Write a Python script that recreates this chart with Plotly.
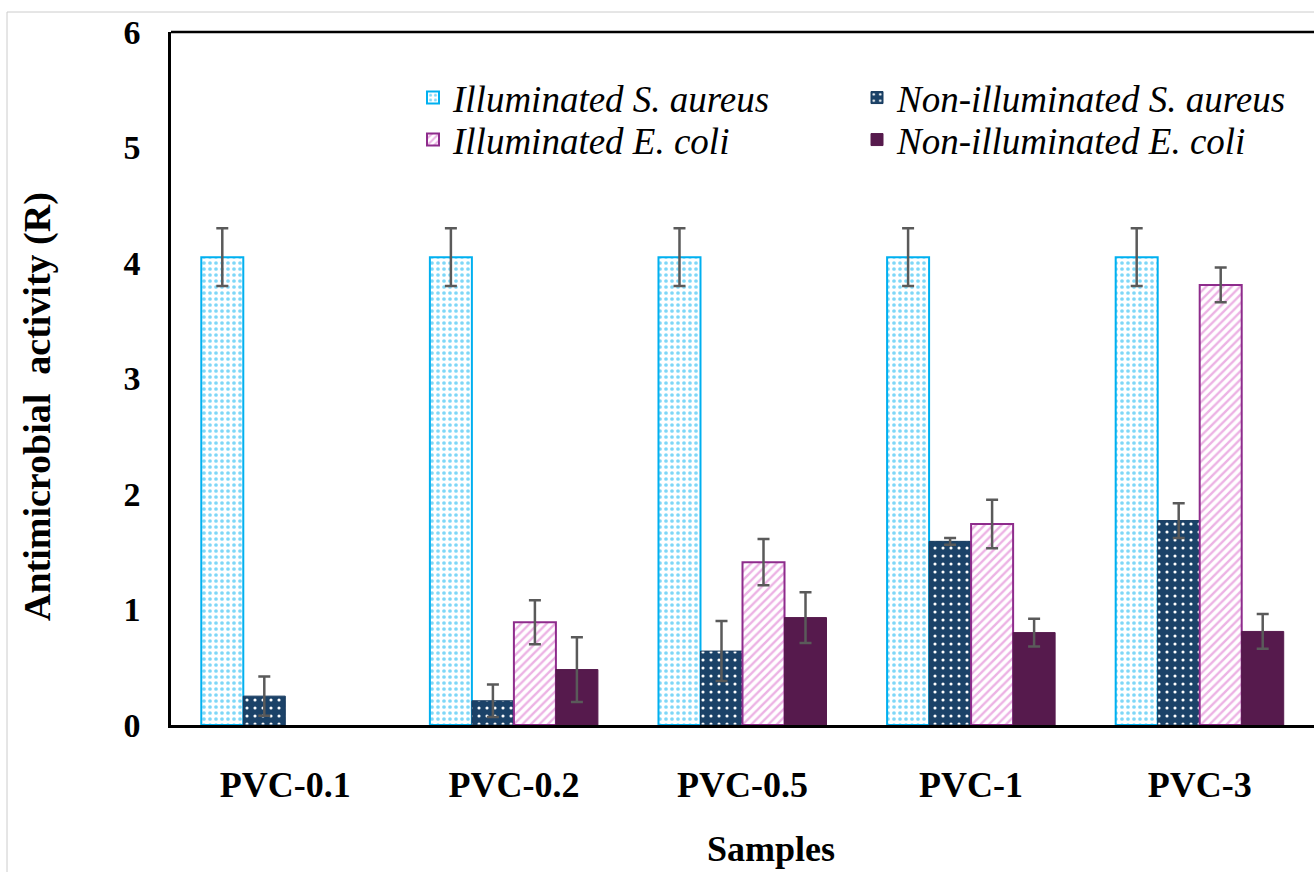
import plotly.graph_objects as go

categories = ["PVC-0.1", "PVC-0.2", "PVC-0.5", "PVC-1", "PVC-3"]

ill_s_aureus = [4.05, 4.05, 4.05, 4.05, 4.05]
ill_s_aureus_err = [0.25, 0.25, 0.25, 0.25, 0.25]

non_s_aureus = [0.25, 0.21, 0.64, 1.59, 1.77]
non_s_aureus_err = [0.17, 0.14, 0.26, 0.03, 0.15]

ill_e_coli = [None, 0.89, 1.41, 1.74, 3.81]
ill_e_coli_err = [None, 0.19, 0.20, 0.21, 0.15]

non_e_coli = [None, 0.48, 0.93, 0.80, 0.81]
non_e_coli_err = [None, 0.28, 0.22, 0.12, 0.15]

y_ticks = [0, 1, 2, 3, 4, 5, 6]

FONT = "Liberation Serif, Times New Roman, serif"
ERR = dict(type="data", visible=True, color="#5a5a5a", thickness=2.5, width=6)

fig = go.Figure()

fig.add_trace(go.Bar(
    x=categories, y=ill_s_aureus, name="<i>Illuminated S. aureus</i>",
    error_y=dict(array=ill_s_aureus_err, **ERR),
    marker=dict(color="white", line=dict(color="#00B0F0", width=2),
                pattern=dict(shape=".", fgcolor="#00B0F0", bgcolor="white",
                             size=6, solidity=0.3, fillmode="overlay")),
    legend="legend"))

fig.add_trace(go.Bar(
    x=categories, y=non_s_aureus, name="<i>Non-illuminated S. aureus</i>",
    error_y=dict(array=non_s_aureus_err, **ERR),
    marker=dict(color="#1B4268", line=dict(color="#173A5E", width=1),
                pattern=dict(shape=".", fgcolor="white", bgcolor="#1B4268",
                             size=8, solidity=0.12, fillmode="replace")),
    legend="legend2"))

fig.add_trace(go.Bar(
    x=categories, y=ill_e_coli, name="<i>Illuminated E. coli</i>",
    error_y=dict(array=ill_e_coli_err, **ERR),
    marker=dict(color="white", line=dict(color="#8E2C8C", width=2),
                pattern=dict(shape="/", fgcolor="#D965C9", bgcolor="white",
                             size=6, solidity=0.4, fillmode="overlay")),
    legend="legend3"))

fig.add_trace(go.Bar(
    x=categories, y=non_e_coli, name="<i>Non-illuminated E. coli</i>",
    error_y=dict(array=non_e_coli_err, **ERR),
    marker=dict(color="#561A4D", line=dict(color="#561A4D", width=1)),
    legend="legend4"))

W, H = 1314, 872
L, T, B = 171, 32, 147
PW = W - L
PH = H - T - B

def px_x(p):
    return (p - L) / PW

def px_y(p):
    return (H - B - p) / PH

legend_common = dict(orientation="v", xanchor="left", yanchor="middle",
                     font=dict(family=FONT, size=37, color="black"),
                     bgcolor="rgba(0,0,0,0)", itemwidth=30, tracegroupgap=0)

fig.update_layout(
    width=W, height=H,
    margin=dict(l=L, r=0, t=T, b=B, autoexpand=False),
    paper_bgcolor="white", plot_bgcolor="white",
    barmode="group", bargap=0.265, bargroupgap=0,
    font=dict(family=FONT, color="black"),
    legend=dict(x=px_x(413), y=px_y(98), **legend_common),
    legend2=dict(x=px_x(857), y=px_y(98), **legend_common),
    legend3=dict(x=px_x(413), y=px_y(140), **legend_common),
    legend4=dict(x=px_x(857), y=px_y(140), **legend_common),
    xaxis=dict(
        range=[-0.5, 4.5], showgrid=False, zeroline=False,
        showline=True, linecolor="black", linewidth=2.5,
        ticks="", ticklabelstandoff=26,
        tickfont=dict(family=FONT, size=36, color="black", weight="bold"),
        automargin=False,
    ),
    yaxis=dict(
        range=[0, 6], tickvals=y_ticks, showgrid=False, zeroline=False,
        showline=True, linecolor="black", linewidth=2.5,
        ticks="", ticklabelstandoff=21,
        tickfont=dict(family=FONT, size=34, color="black", weight="bold"),
        automargin=False,
    ),
    showlegend=True,
)

# axis titles
fig.add_annotation(text="<b>Samples</b>", xref="paper", yref="paper",
                   x=px_x(771), y=px_y(849), xanchor="center", yanchor="middle",
                   showarrow=False, font=dict(family=FONT, size=36, color="black"))
fig.add_annotation(text="<b>Antimicrobial\u00a0 activity (R)</b>", xref="paper", yref="paper",
                   x=px_x(37), y=px_y(407), xanchor="center", yanchor="middle",
                   textangle=-90, showarrow=False,
                   font=dict(family=FONT, size=38, color="black"))

# top frame line
fig.add_shape(type="line", xref="paper", yref="paper", x0=0, x1=1, y0=1, y1=1,
              line=dict(color="black", width=2.5))
# outer light grey border of the picture
fig.add_shape(type="line", xref="paper", yref="paper",
              x0=px_x(7), x1=px_x(W + 5), y0=px_y(12), y1=px_y(12),
              line=dict(color="#cccccc", width=1))
fig.add_shape(type="line", xref="paper", yref="paper",
              x0=px_x(7), x1=px_x(7), y0=px_y(12), y1=px_y(H + 5),
              line=dict(color="#cccccc", width=1))

fig.write_html("out.html")
